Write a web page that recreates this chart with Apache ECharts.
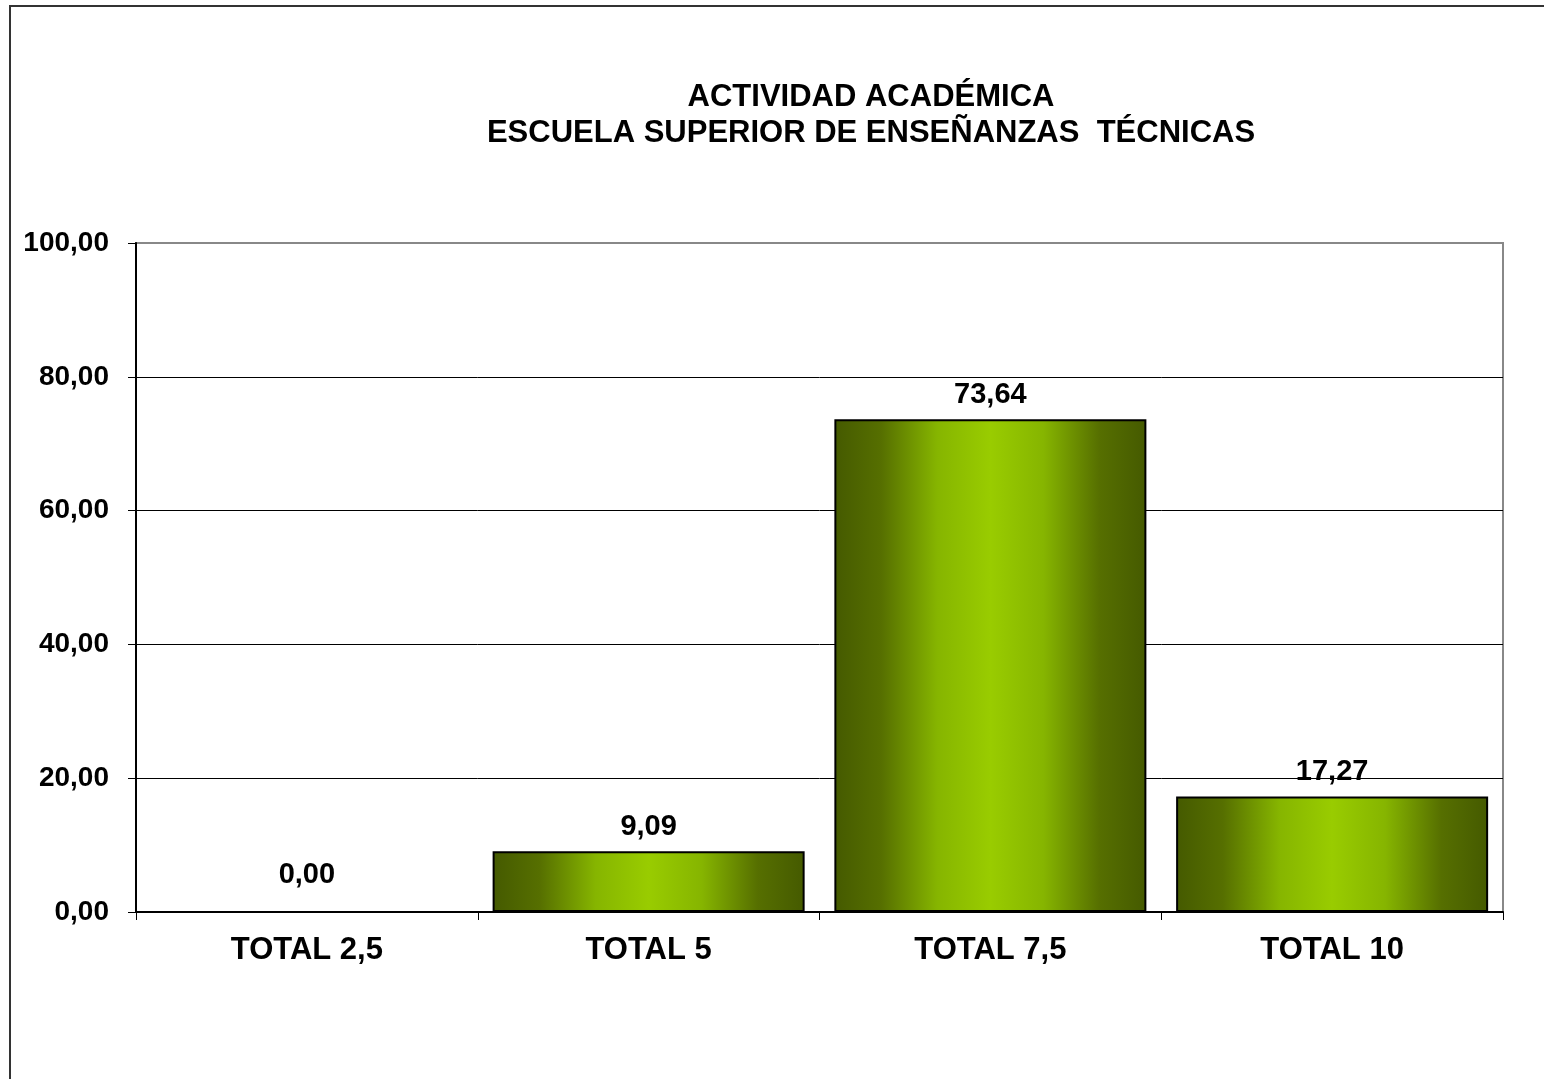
<!DOCTYPE html>
<html>
<head>
<meta charset="utf-8">
<script src="https://cdn.jsdelivr.net/npm/echarts@6/dist/echarts.min.js"></script>
<style>
  html, body { margin: 0; padding: 0; background: #fff; }
  #chart { width: 1544px; height: 1079px; }
</style>
</head>
<body>
<div id="chart"></div>
<script>
var categories = ['TOTAL 2,5', 'TOTAL 5', 'TOTAL 7,5', 'TOTAL 10'];
var values = [0.00, 9.09, 73.64, 17.27];
var titleText = 'ACTIVIDAD ACADÉMICA\nESCUELA SUPERIOR DE ENSEÑANZAS  TÉCNICAS';

var fontName = '"Liberation Sans", Arial, sans-serif';

function fmt(v) {
	return Number(v).toFixed(2).replace('.', ',');
}

var barGradient = new echarts.graphic.LinearGradient(0, 0, 1, 0, [
	{offset: 0, color: '#455a00'},
	{offset: 0.15, color: '#566f00'},
	{offset: 0.33, color: '#86b500'},
	{offset: 0.5, color: '#99cc00'},
	{offset: 0.67, color: '#86b500'},
	{offset: 0.85, color: '#566f00'},
	{offset: 1, color: '#455a00'}
]);

// zero bar: excel puts its label a bit higher
var barData = values.map(function (v) {
	return v === 0 ? {value: v, label: {distance: 22}} : v;
});

var myChart = echarts.init(document.getElementById('chart'));

var option = {
	backgroundColor: '#fff',
	animation: false,
	title: {
		text: titleText,
		left: 871,
		top: 79,
		padding: 0,
		textAlign: 'center',
		textStyle: {
			fontFamily: fontName,
			fontWeight: 'bold',
			fontSize: 31,
			lineHeight: 36,
			color: '#000'
		}
	},
	graphic: [{
		type: 'rect',
		shape: {x: 10, y: 6, width: 1700, height: 1200},
		style: {fill: 'none', stroke: '#333', lineWidth: 2},
		silent: true
	}],
	grid: {
		left: 136,
		right: 41,
		top: 243,
		bottom: 167,
		show: true,
		borderColor: '#888',
		borderWidth: 2
	},
	xAxis: {
		type: 'category',
		data: categories,
		axisLine: {lineStyle: {color: '#000', width: 2}},
		axisTick: {show: true, length: 8, lineStyle: {color: '#000', width: 1}},
		axisLabel: {
			margin: 23,
			fontFamily: fontName,
			fontWeight: 'bold',
			fontSize: 31,
			color: '#000'
		}
	},
	yAxis: {
		type: 'value',
		min: 0,
		max: 100,
		interval: 20,
		axisLine: {show: true, lineStyle: {color: '#000', width: 2}},
		axisTick: {show: true, length: 8, lineStyle: {color: '#000', width: 1}},
		splitLine: {lineStyle: {color: ['#000', '#000', '#000', '#000', '#000', '#888'], width: 1}},
		axisLabel: {
			margin: 27,
			formatter: fmt,
			fontFamily: fontName,
			fontWeight: 'bold',
			fontSize: 28,
			color: '#000'
		}
	},
	series: [{
		type: 'bar',
		data: barData,
		barCategoryGap: '8.7%',
		itemStyle: {
			color: barGradient,
			borderColor: '#000',
			borderWidth: 2
		},
		label: {
			show: true,
			position: 'top',
			distance: 10,
			formatter: function (p) { return fmt(p.value); },
			fontFamily: fontName,
			fontWeight: 'bold',
			fontSize: 29,
			color: '#000'
		}
	}]
};

myChart.setOption(option);
</script>
</body>
</html>
